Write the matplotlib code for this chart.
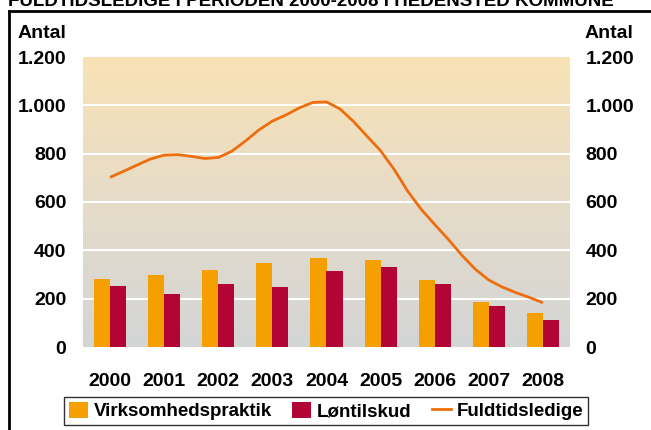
import numpy as np
import matplotlib
matplotlib.use("Agg")
import matplotlib.pyplot as plt
from matplotlib.patches import Patch
from matplotlib.lines import Line2D
from matplotlib.colors import LinearSegmentedColormap

years = ["2000", "2001", "2002", "2003", "2004", "2005", "2006", "2007", "2008"]
virksomhedspraktik = [280, 296, 317, 346, 367, 358, 276, 185, 139]
loentilskud = [251, 218, 259, 247, 313, 329, 259, 168, 110]
# Fuldtidsledige, read quarterly from 2000 to 2008
fuldtidsledige = [702, 727, 753, 778, 794, 796, 789, 780, 784, 810, 852, 898,
                  935, 960, 990, 1012, 1014, 985, 933, 872, 812, 735, 645, 570,
                  507, 446, 380, 322, 277, 248, 225, 205, 183]
yticks = [0, 200, 400, 600, 800, 1000, 1200]
ytick_labels = ["0", "200", "400", "600", "800", "1.000", "1.200"]

plt.rcParams['font.family'] = ['Liberation Sans', 'DejaVu Sans']
plt.rcParams['font.weight'] = 'bold'

W, H = 651, 430
fig = plt.figure(figsize=(W / 100, H / 100), dpi=100)
ax = fig.add_axes([83 / W, 1 - 347 / H, 487 / W, 290 / H])

c_orange = "#F5A000"
c_red = "#B30535"
c_line = "#EE6E0E"

# gradient background
cmap = LinearSegmentedColormap.from_list("bg", ["#D3D5D6", "#E6DCC9", "#F9E2B5"])
grad = np.linspace(0, 1, 256).reshape(-1, 1)
ax.imshow(grad, cmap=cmap, aspect="auto", origin="lower",
          extent=[-0.5, len(years) - 0.5, 0, 1200], zorder=0)

x = np.arange(len(years))
bw = 0.296
ax.bar(x - bw / 2, virksomhedspraktik, width=bw, color=c_orange, zorder=2)
ax.bar(x + bw / 2, loentilskud, width=bw, color=c_red, zorder=2)

xl = np.linspace(0, len(years) - 1, len(fuldtidsledige))
ax.plot(xl, fuldtidsledige, color=c_line, lw=2, zorder=3, solid_capstyle="butt")

for t in yticks[1:-1]:
    ax.axhline(t, color="white", lw=1.5, zorder=1)

ax.set_xlim(-0.5, len(years) - 0.5)
ax.set_ylim(0, 1200)
for s in ax.spines.values():
    s.set_visible(False)

FS = 14
ax.set_xticks(x)
ax.set_xticklabels(years, fontsize=FS, fontweight="bold")
ax.set_yticks(yticks)
ax.set_yticklabels(ytick_labels, fontsize=FS, fontweight="bold")
ax.tick_params(axis="both", length=0)
ax.tick_params(axis="y", pad=12)
ax.tick_params(axis="x", pad=18.5)

ax2 = ax.twinx()
ax2.set_ylim(0, 1200)
ax2.set_yticks(yticks)
ax2.set_yticklabels(ytick_labels, fontsize=FS, fontweight="bold")
ax2.tick_params(axis="y", length=0, pad=11)
for s in ax2.spines.values():
    s.set_visible(False)

fig.text(18 / W, 1 - 33 / H, "Antal", fontsize=FS, fontweight="bold", va="center", ha="left")
fig.text(585 / W, 1 - 33 / H, "Antal", fontsize=FS, fontweight="bold", va="center", ha="left")

# title (partially cut at the top, as in the reference)
fig.text(8 / W, 1 - 6 / H, "FULDTIDSLEDIGE I PERIODEN 2000-2008 I HEDENSTED KOMMUNE",
         fontsize=13.5, fontweight="bold", va="baseline", ha="left")

# frame lines
fig.add_artist(Line2D([9 / W, 9 / W], [0, 1 - 11 / H], transform=fig.transFigure, color="black", lw=2))
fig.add_artist(Line2D([9 / W, 1], [1 - 11 / H, 1 - 11 / H], transform=fig.transFigure, color="black", lw=2))

handles = [Patch(facecolor=c_orange, edgecolor="none"),
           Patch(facecolor=c_red, edgecolor="none"),
           Line2D([0], [0], color=c_line, lw=2)]
labels = ["Virksomhedspraktik", "Løntilskud", "Fuldtidsledige"]
leg = fig.legend(handles, labels, loc="center", bbox_to_anchor=(326 / W, 1 - 411 / H),
                 ncol=3, frameon=True, fancybox=False, edgecolor="black",
                 prop={"size": 13.5, "weight": "bold"}, handlelength=1.0, handleheight=1.0,
                 handletextpad=0.3, columnspacing=1.1, borderpad=0.25, borderaxespad=0)
leg.get_frame().set_linewidth(1)

fig.savefig("out.png", dpi=100)
